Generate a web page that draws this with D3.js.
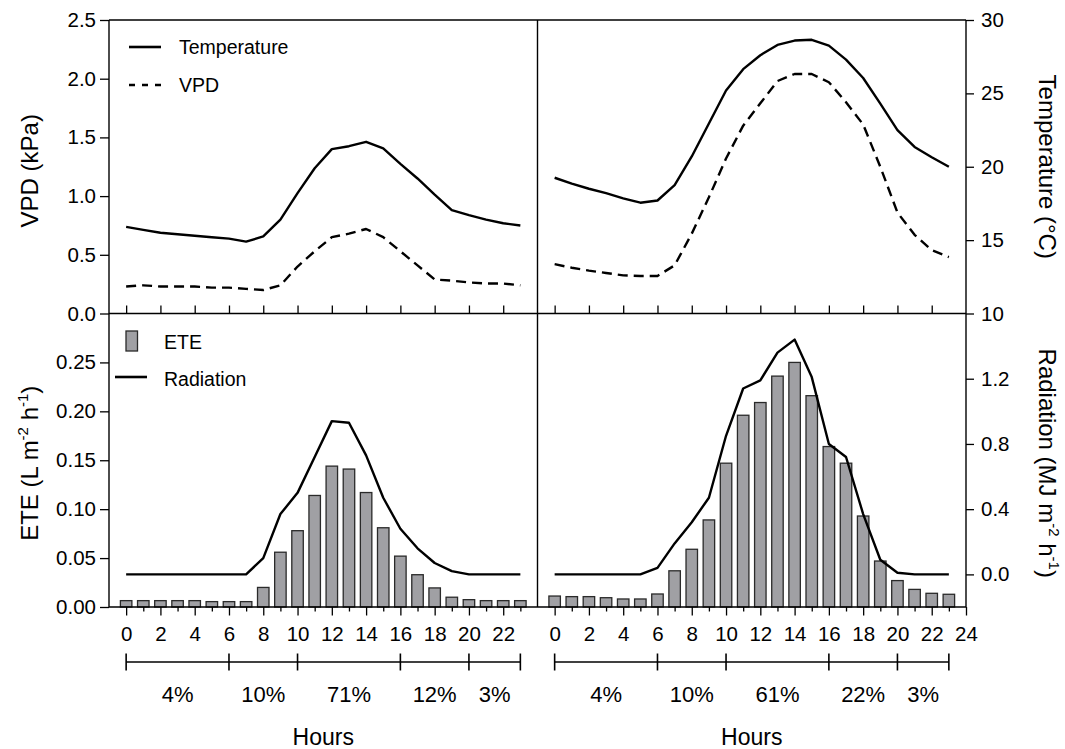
<!DOCTYPE html>
<html>
<head>
<meta charset="utf-8">
<script src="https://cdn.jsdelivr.net/npm/d3@7"></script>
<style>
  html, body { margin: 0; padding: 0; background: #fff; }
  svg text { font-family: "Liberation Sans", Arial, Helvetica, sans-serif; fill: #000; }
</style>
</head>
<body>
<svg id="chart" width="1065" height="749"></svg>
<script>
// ---------------- DATA ----------------
const hours = [0,1,2,3,4,5,6,7,8,9,10,11,12,13,14,15,16,17,18,19,20,21,22,23];

// Top panels: temperature (°C, right axis) and VPD (kPa, left axis)
const tempLeft  = [15.9,15.7,15.5,15.4,15.3,15.2,15.1,14.9,15.25,16.4,18.2,19.9,21.2,21.4,21.7,21.25,20.2,19.2,18.1,17.05,16.7,16.4,16.15,16.0];
const vpdLeft   = [0.23,0.24,0.23,0.23,0.23,0.22,0.22,0.21,0.20,0.24,0.40,0.53,0.65,0.68,0.72,0.65,0.53,0.41,0.29,0.28,0.265,0.255,0.255,0.24];
const tempRight = [19.25,18.85,18.5,18.2,17.85,17.55,17.7,18.75,20.7,22.95,25.2,26.65,27.6,28.3,28.6,28.65,28.25,27.3,26.05,24.3,22.5,21.35,20.65,20.0];
const vpdRight  = [0.42,0.39,0.365,0.345,0.325,0.32,0.32,0.41,0.68,0.99,1.32,1.60,1.79,1.98,2.04,2.04,1.97,1.80,1.61,1.25,0.86,0.67,0.54,0.48];

// Bottom panels: ETE (L m-2 h-1, left axis, bars) and radiation (MJ m-2 h-1, right axis, line)
const eteLeft   = [0.0065,0.0065,0.0065,0.0065,0.0065,0.0055,0.0055,0.0055,0.020,0.056,0.078,0.114,0.144,0.141,0.117,0.081,0.052,0.033,0.0195,0.010,0.0075,0.0065,0.0065,0.0065];
const radLeft   = [0,0,0,0,0,0,0,0,0.10,0.37,0.50,0.72,0.94,0.93,0.73,0.47,0.28,0.16,0.07,0.02,0,0,0,0];
const eteRight  = [0.0112,0.0106,0.0106,0.0095,0.0082,0.0082,0.0133,0.037,0.059,0.089,0.147,0.196,0.209,0.236,0.250,0.216,0.164,0.147,0.093,0.047,0.027,0.018,0.014,0.013];
const radRight  = [0,0,0,0,0,0,0.04,0.19,0.32,0.47,0.85,1.14,1.19,1.36,1.44,1.21,0.80,0.72,0.37,0.09,0.01,0,0,0];

// Ticks
const vpdTicks  = [0,0.5,1.0,1.5,2.0,2.5];
const eteTicks  = [0,0.05,0.10,0.15,0.20,0.25];
const tempTicks = [10,15,20,25,30];
const radTicks  = [0,0.4,0.8,1.2];
const hourLabelsLeft  = [0,2,4,6,8,10,12,14,16,18,20,22];
const hourLabelsRight = [0,2,4,6,8,10,12,14,16,18,20,22,24];
const hourMinorLeft   = [1,3,5,7,9,11,13,15,17,19,21,23];
const hourMinorRight  = [1,3,5,7,9,11,13,15,17,19,21,23];
const innerTicks      = [0,2,4,6,8,10,12,14,16,18,20,22];

// Period brackets and shares
const bracketHours = [0,6,10,16,20,23];
const pctLeft  = ["4%","10%","71%","12%","3%"];
const pctRight = ["4%","10%","61%","22%","3%"];

// ---------------- LAYOUT ----------------
const L = 109, M = 537.5, R = 966, T = 20, MID = 313.5, B = 607;
const svg = d3.select("#chart");

const xL = d3.scaleLinear().domain([-1,24]).range([L,M]);
const xR = d3.scaleLinear().domain([-1,24]).range([M,R]);
const yVPD  = d3.scaleLinear().domain([0,2.5]).range([MID,T]);
const yTemp = d3.scaleLinear().domain([10,30]).range([MID,T]);
const yETE  = d3.scaleLinear().domain([0,0.3]).range([B,MID]);
const yRad  = d3.scaleLinear().domain([-0.2,1.6]).range([B,MID]);

const tickFont = 20.5;

function styleAxis(g, fs) {
  g.select(".domain").remove();
  g.selectAll(".tick line").attr("stroke","#000").attr("stroke-width",1.3);
  g.selectAll(".tick text").attr("font-size", fs).attr("fill","#000")
    .style("font-family", '"Liberation Sans", Arial, sans-serif');
}

// ---------------- BARS ----------------
function drawBars(x, data) {
  const bw = x(0.335) - x(-0.335);
  svg.append("g").selectAll("rect").data(hours).join("rect")
    .attr("x", (h) => x(h) - bw/2)
    .attr("y", (h,i) => yETE(data[i]))
    .attr("width", bw)
    .attr("height", (h,i) => B - yETE(data[i]))
    .attr("fill", "#a0a0a4")
    .attr("stroke", "#2a2a2a")
    .attr("stroke-width", 1.3);
}
drawBars(xL, eteLeft);
drawBars(xR, eteRight);

// ---------------- LINES ----------------
function drawLine(x, y, data, dashed) {
  const line = d3.line().x((d,i) => x(hours[i])).y((d) => y(d));
  svg.append("path").datum(data)
    .attr("d", line)
    .attr("fill","none")
    .attr("stroke","#000")
    .attr("stroke-width", 2.4)
    .attr("stroke-linejoin","round")
    .attr("stroke-dasharray", dashed ? "10,6" : null);
}
drawLine(xL, yTemp, tempLeft, false);
drawLine(xL, yVPD, vpdLeft, true);
drawLine(xR, yTemp, tempRight, false);
drawLine(xR, yVPD, vpdRight, true);
drawLine(xL, yRad, radLeft, false);
drawLine(xR, yRad, radRight, false);

// ---------------- FRAME ----------------
const frame = svg.append("g").attr("stroke","#000").attr("stroke-width",1.4);
frame.append("line").attr("x1",L).attr("x2",R).attr("y1",T).attr("y2",T);
frame.append("line").attr("x1",L).attr("x2",R).attr("y1",MID).attr("y2",MID);
frame.append("line").attr("x1",L).attr("x2",R).attr("y1",B).attr("y2",B);
frame.append("line").attr("x1",L).attr("x2",L).attr("y1",T).attr("y2",B);
frame.append("line").attr("x1",M).attr("x2",M).attr("y1",T).attr("y2",B);
frame.append("line").attr("x1",R).attr("x2",R).attr("y1",T).attr("y2",B);

// ---------------- AXES ----------------
svg.append("g").attr("transform",`translate(${L},0)`)
  .call(d3.axisLeft(yVPD).tickValues(vpdTicks).tickSize(9).tickPadding(4).tickFormat(d3.format(".1f")))
  .call(g => styleAxis(g, tickFont));
svg.append("g").attr("transform",`translate(${L},0)`)
  .call(d3.axisLeft(yETE).tickValues(eteTicks).tickSize(9).tickPadding(4).tickFormat(d3.format(".2f")))
  .call(g => styleAxis(g, tickFont));
svg.append("g").attr("transform",`translate(${R},0)`)
  .call(d3.axisRight(yTemp).tickValues(tempTicks).tickSize(8).tickPadding(7).tickFormat(d3.format("d")))
  .call(g => styleAxis(g, tickFont));
svg.append("g").attr("transform",`translate(${R},0)`)
  .call(d3.axisRight(yRad).tickValues(radTicks).tickSize(8).tickPadding(7).tickFormat(d3.format(".1f")))
  .call(g => styleAxis(g, tickFont));

function bottomAxes(x, labels, minor) {
  svg.append("g").attr("transform",`translate(0,${B})`)
    .call(d3.axisBottom(x).tickValues(labels).tickSize(8.5).tickFormat(d3.format("d")))
    .call(g => { styleAxis(g, tickFont); g.selectAll(".tick text").attr("dy", null).attr("y", 34); });
  svg.append("g").attr("transform",`translate(0,${B})`)
    .call(d3.axisBottom(x).tickValues(minor).tickSize(4.5).tickFormat(""))
    .call(g => styleAxis(g, tickFont));
  svg.append("g").attr("transform",`translate(0,${MID})`)
    .call(d3.axisTop(x).tickValues(innerTicks).tickSize(8).tickFormat(""))
    .call(g => styleAxis(g, tickFont));
}
bottomAxes(xL, hourLabelsLeft, hourMinorLeft);
bottomAxes(xR, hourLabelsRight, hourMinorRight);

// ---------------- BRACKETS + SHARES ----------------
function brackets(x, pcts) {
  const by = 662;
  const g = svg.append("g").attr("stroke","#000").attr("stroke-width",1.6);
  g.append("line").attr("x1", x(bracketHours[0])).attr("x2", x(bracketHours[bracketHours.length-1]))
    .attr("y1", by).attr("y2", by);
  g.selectAll("line.cap").data(bracketHours).join("line").attr("class","cap")
    .attr("x1", d => x(d)).attr("x2", d => x(d)).attr("y1", by-8.5).attr("y2", by+8.5);
  svg.append("g").selectAll("text").data(pcts).join("text")
    .attr("x", (d,i) => (x(bracketHours[i]) + x(bracketHours[i+1]))/2)
    .attr("y", 701.5)
    .attr("text-anchor","middle")
    .attr("font-size", 22)
    .text(d => d);
  svg.append("text")
    .attr("x", (x.range()[0] + x.range()[1])/2)
    .attr("y", 745)
    .attr("text-anchor","middle")
    .attr("font-size", 23)
    .text("Hours");
}
brackets(xL, pctLeft);
brackets(xR, pctRight);

// ---------------- AXIS TITLES ----------------
const titleFont = 24, supFont = 15;
svg.append("text").attr("transform",`translate(38,${(T+MID)/2+4}) rotate(-90)`)
  .attr("text-anchor","middle").attr("font-size",titleFont).text("VPD (kPa)");

const ete = svg.append("text").attr("transform",`translate(38,${(MID+B)/2+3}) rotate(-90)`)
  .attr("text-anchor","middle").attr("font-size",titleFont);
ete.append("tspan").text("ETE (L m");
ete.append("tspan").attr("font-size",supFont).attr("dy",-10).text("-2");
ete.append("tspan").attr("dy",10).text(" h");
ete.append("tspan").attr("font-size",supFont).attr("dy",-10).text("-1");
ete.append("tspan").attr("dy",10).text(")");

svg.append("text").attr("transform",`translate(1039,${(T+MID)/2}) rotate(90)`)
  .attr("text-anchor","middle").attr("font-size",titleFont).text("Temperature (°C)");

const rad = svg.append("text").attr("transform",`translate(1039,${(MID+B)/2+3}) rotate(90)`)
  .attr("text-anchor","middle").attr("font-size",titleFont);
rad.append("tspan").text("Radiation (MJ m");
rad.append("tspan").attr("font-size",supFont).attr("dy",-10).text("-2");
rad.append("tspan").attr("dy",10).text(" h");
rad.append("tspan").attr("font-size",supFont).attr("dy",-10).text("-1");
rad.append("tspan").attr("dy",10).text(")");

// ---------------- LEGENDS ----------------
const legFont = 19.5;
const lg = svg.append("g");
lg.append("line").attr("x1",129).attr("x2",161).attr("y1",47).attr("y2",47)
  .attr("stroke","#000").attr("stroke-width",2.6);
lg.append("text").attr("x",179).attr("y",54).attr("font-size",legFont).text("Temperature");
lg.append("line").attr("x1",129).attr("x2",161).attr("y1",85).attr("y2",85)
  .attr("stroke","#000").attr("stroke-width",2.6).attr("stroke-dasharray","6,7");
lg.append("text").attr("x",179).attr("y",92).attr("font-size",legFont).text("VPD");

lg.append("rect").attr("x",126).attr("y",331).attr("width",11.5).attr("height",20)
  .attr("fill","#a0a0a4").attr("stroke","#2a2a2a").attr("stroke-width",1.3);
lg.append("text").attr("x",164).attr("y",349).attr("font-size",legFont).text("ETE");
lg.append("line").attr("x1",115).attr("x2",147).attr("y1",377).attr("y2",377)
  .attr("stroke","#000").attr("stroke-width",2.6);
lg.append("text").attr("x",164).attr("y",386).attr("font-size",legFont).text("Radiation");
</script>
</body>
</html>
